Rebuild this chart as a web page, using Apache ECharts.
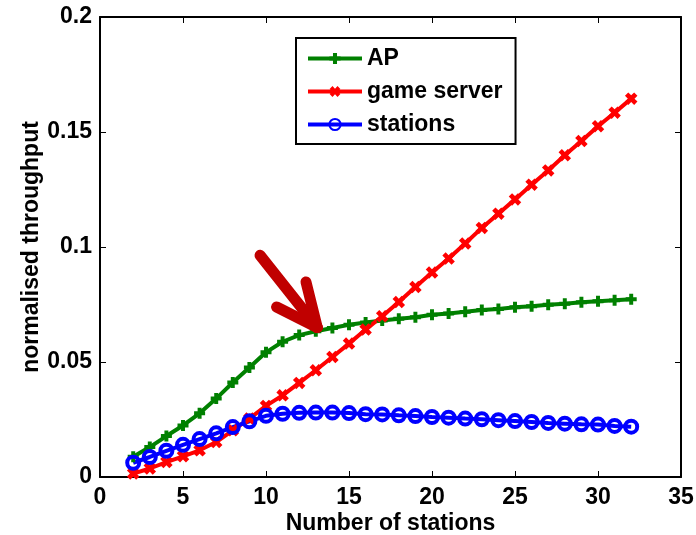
<!DOCTYPE html>
<html>
<head>
<meta charset="utf-8">
<script src="https://cdn.jsdelivr.net/npm/echarts@6/dist/echarts.min.js"></script>
<style>
  html, body { margin: 0; padding: 0; background: #fff; }
  #chart { width: 696px; height: 535px; }
</style>
</head>
<body>
<div id="chart"></div>
<script>
// number of stations, 2..32
const stations = [2, 3, 4, 5, 6, 7, 8, 9, 10, 11, 12, 13, 14, 15, 16, 17, 18, 19, 20, 21, 22, 23, 24, 25, 26, 27, 28, 29, 30, 31, 32]

const apValues = [0.0088, 0.013, 0.0178, 0.0224, 0.0277, 0.0341, 0.0411, 0.0476, 0.0542, 0.0588, 0.0617,
  0.0634, 0.0648, 0.0662, 0.0672, 0.068, 0.0688, 0.0695, 0.0705, 0.0711, 0.0718, 0.0726, 0.073, 0.0738,
  0.0742, 0.0749, 0.0753, 0.076, 0.0764, 0.0768, 0.0773]

const serverValues = [0.0015, 0.0037, 0.0065, 0.009, 0.0116, 0.0152, 0.0203, 0.0254, 0.0309, 0.0355, 0.0409,
  0.0464, 0.0522, 0.058, 0.0641, 0.0699, 0.0761, 0.0826, 0.0889, 0.095, 0.1015, 0.1083, 0.1145, 0.1207,
  0.1271, 0.1333, 0.1399, 0.1461, 0.1525, 0.1584, 0.1645]

const stationValues = [0.0062, 0.0087, 0.0114, 0.014, 0.0165, 0.019, 0.0217, 0.0242, 0.0266, 0.0275, 0.0279,
  0.028, 0.028, 0.0278, 0.0273, 0.0272, 0.0268, 0.0265, 0.0261, 0.0258, 0.0254, 0.0251, 0.0247, 0.0243,
  0.0239, 0.0235, 0.0232, 0.0229, 0.0228, 0.0222, 0.0219]

// annotation arrow, data coordinates: shaft + two head arms
const arrowSegments = [
  [[9.64, 0.0964], [13.09, 0.065]],
  [[12.41, 0.0848], [13.09, 0.065]],
  [[10.64, 0.0739], [13.09, 0.065]]
]

const font = 'Liberation Sans, Arial, sans-serif'
const plusPath = 'path://M3.2,0H6.8V3.2H10V6.8H6.8V10H3.2V6.8H0V3.2H3.2Z'

const pairs = (vals) => stations.map((x, i) => [x, vals[i]])

const chart = echarts.init(document.getElementById('chart'))

const baseX = {
  type: 'value', min: 0, max: 35, interval: 5,
  axisLine: { onZero: false, lineStyle: { color: '#000', width: 2 } },
  axisTick: { inside: true, length: 6, lineStyle: { color: '#000', width: 1 } },
  splitLine: { show: false }
}
const baseY = {
  type: 'value', min: 0, max: 0.2, interval: 0.05,
  axisLine: { onZero: false, lineStyle: { color: '#000', width: 2 } },
  axisTick: { inside: true, length: 6, lineStyle: { color: '#000', width: 1 } },
  splitLine: { show: false }
}
const textBold = { color: '#000', fontSize: 23, fontWeight: 'bold', fontFamily: font }

chart.setOption({
  animation: false,
  backgroundColor: '#fff',
  grid: { left: 100, right: 15, top: 17, bottom: 58, outerBoundsMode: 'none', containLabel: false },
  xAxis: [
    {
      ...baseX,
      position: 'bottom',
      name: 'Number of stations',
      nameLocation: 'middle',
      nameGap: 35,
      nameMoveOverlap: false,
      nameTextStyle: textBold,
      axisLabel: { ...textBold, margin: 9 }
    },
    { ...baseX, position: 'top', axisLabel: { show: false } }
  ],
  yAxis: [
    {
      ...baseY,
      position: 'left',
      name: 'normalised throughput',
      nameLocation: 'middle',
      nameGap: 57,
      nameMoveOverlap: false,
      nameTextStyle: textBold,
      axisLabel: {
        ...textBold, margin: 8,
        formatter: (v) => String(Math.round(v * 100) / 100)
      }
    },
    { ...baseY, position: 'right', axisLabel: { show: false } }
  ],
  legend: {
    data: ['AP', 'game server', 'stations'],
    orient: 'vertical',
    left: 296,
    top: 38,
    padding: [9, 13, 8, 10],
    itemGap: 10,
    itemWidth: 54,
    itemHeight: 14,
    backgroundColor: '#fff',
    borderColor: '#000',
    borderWidth: 2,
    borderRadius: 0,
    lineStyle: { width: 4 },
    textStyle: textBold
  },
  series: [
    {
      name: 'AP',
      type: 'line',
      data: pairs(apValues),
      color: '#008000',
      lineStyle: { width: 4, color: '#008000' },
      symbol: plusPath,
      symbolSize: 11,
      itemStyle: { color: '#008000' }
    },
    {
      name: 'game server',
      type: 'line',
      data: pairs(serverValues),
      color: '#ff0000',
      lineStyle: { width: 4, color: '#ff0000' },
      symbol: plusPath,
      symbolRotate: 45,
      symbolSize: 13,
      itemStyle: { color: '#ff0000' }
    },
    {
      name: 'stations',
      type: 'line',
      data: pairs(stationValues),
      color: '#0000ff',
      lineStyle: { width: 4, color: '#0000ff' },
      symbol: 'circle',
      symbolSize: 12,
      itemStyle: { color: 'rgba(0,0,255,0)', borderColor: '#0000ff', borderWidth: 4 }
    },
    {
      name: 'arrow',
      type: 'lines',
      coordinateSystem: 'cartesian2d',
      z: 5,
      silent: true,
      lineStyle: { color: '#c00000', width: 11, opacity: 1, cap: 'round' },
      data: arrowSegments.map((seg) => ({ coords: seg }))
    }
  ]
})
</script>
</body>
</html>
